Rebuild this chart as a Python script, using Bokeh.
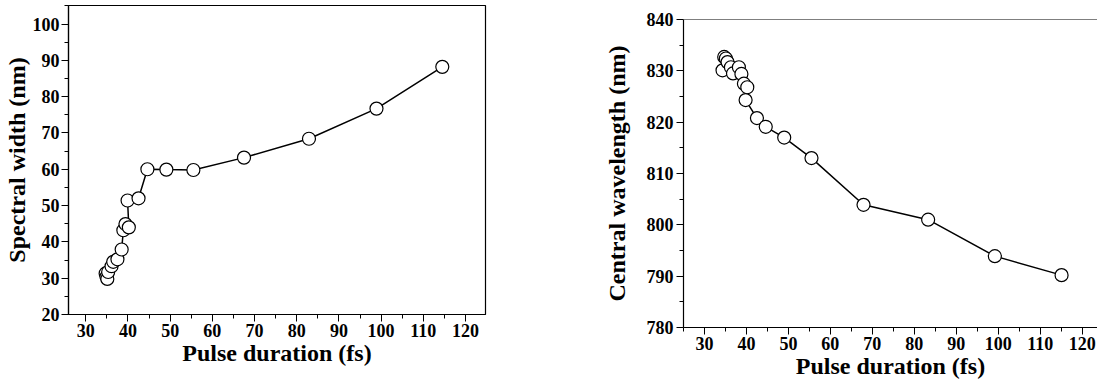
from bokeh.plotting import figure
from bokeh.layouts import row, column
from bokeh.models import Range1d, FixedTicker, Span
from bokeh.embed import file_html
from bokeh.resources import INLINE

# Left panel: spectral width vs pulse duration
pulse_w = [34.7, 34.9, 35.1, 35.3, 36.1, 36.5, 37.5, 38.5, 38.9, 39.4, 40.2, 39.9,
           42.5, 44.6, 49.1, 55.5, 67.5, 82.9, 98.9, 114.5]
width_nm = [31.3, 30.4, 29.8, 31.7, 33.3, 34.5, 35.2, 37.9, 43.2, 44.9, 44.0, 51.4,
            52.0, 60.0, 59.9, 59.8, 63.2, 68.4, 76.7, 88.2]

# Right panel: central wavelength vs pulse duration
pulse_c = [34.3, 34.7, 35.1, 35.5, 36.3, 36.8, 38.2, 38.8, 39.4, 40.2, 39.8, 42.5,
           44.6, 49.0, 55.5, 67.9, 83.3, 99.2, 115.1]
center_nm = [830.1, 832.7, 832.4, 831.7, 830.7, 829.5, 830.7, 829.4, 827.5, 826.8,
             824.3, 820.8, 819.1, 817.0, 813.0, 803.9, 801.0, 793.9, 790.2]

x_ticks = [30, 40, 50, 60, 70, 80, 90, 100, 110, 120]
x_minor = [25, 35, 45, 55, 65, 75, 85, 95, 105, 115, 125]
yl_ticks = [20, 30, 40, 50, 60, 70, 80, 90, 100]
yl_minor = [25, 35, 45, 55, 65, 75, 85, 95, 105]
yr_ticks = [780, 790, 800, 810, 820, 830, 840]
yr_minor = [785, 795, 805, 815, 825, 835]

FONT = "Liberation Serif"


def style(p, xlabel, ylabel):
    p.grid.visible = False
    p.background_fill_color = "white"
    p.border_fill_color = "white"
    for axes in (p.xaxis, p.yaxis):
        axes.major_label_text_font = FONT
        axes.major_label_text_font_style = "bold"
        axes.major_label_text_font_size = "18px"
        axes.major_label_text_color = "black"
        axes.axis_label_text_font = FONT
        axes.axis_label_text_font_style = "bold"
        axes.axis_label_text_font_size = "24px"
        axes.axis_label_text_color = "black"
        axes.axis_line_color = "black"
        axes.axis_line_width = 1.2
        axes.major_tick_line_color = "black"
        axes.minor_tick_line_color = "black"
        axes.major_tick_out = 7
        axes.major_tick_in = 0
        axes.minor_tick_out = 4
        axes.minor_tick_in = 0
        axes.axis_label_standoff = 0
    p.xaxis.major_label_standoff = 2
    p.xaxis.axis_label = xlabel
    p.yaxis.axis_label = ylabel
    p.xaxis.ticker = FixedTicker(ticks=x_ticks, minor_ticks=x_minor)


# Left figure
p1 = figure(frame_width=417, frame_height=309,
            output_backend="svg", toolbar_location=None,
            x_range=Range1d(25.9, 124.74), y_range=Range1d(20, 105.1),
            min_border_left=64, min_border_right=79, min_border_top=5,
            min_border_bottom=58)
style(p1, "Pulse duration (fs)", "Spectral width (nm)")
p1.yaxis.major_label_standoff = 2
p1.yaxis.ticker = FixedTicker(ticks=yl_ticks, minor_ticks=yl_minor)
p1.outline_line_color = "black"
p1.outline_line_width = 1.2
p1.line(pulse_w, width_nm, line_color="black", line_width=1.5)
p1.scatter(pulse_w, width_nm, size=13, fill_color="white", line_color="black",
           line_width=1.2)

# Right figure
p2 = figure(frame_width=414, frame_height=308,
            output_backend="svg", toolbar_location=None,
            x_range=Range1d(25, 123.66), y_range=Range1d(780, 840),
            min_border_left=119, min_border_right=0, min_border_top=19,
            min_border_bottom=50)
style(p2, "Pulse duration (fs)", "Central wavelength (nm)")
p2.yaxis.major_label_standoff = 3
p2.yaxis.axis_label_standoff = 14
p2.yaxis.ticker = FixedTicker(ticks=yr_ticks, minor_ticks=yr_minor)
p2.outline_line_color = None
p2.add_layout(Span(location=840, dimension="width", line_color="black", line_width=1.2))
p2.line(pulse_c, center_nm, line_color="black", line_width=1.5)
p2.scatter(pulse_c, center_nm, size=13, fill_color="white", line_color="black",
           line_width=1.2)

layout = row(column(p1), column(p2), spacing=0)
open("out.html", "w").write(file_html(layout, INLINE))
